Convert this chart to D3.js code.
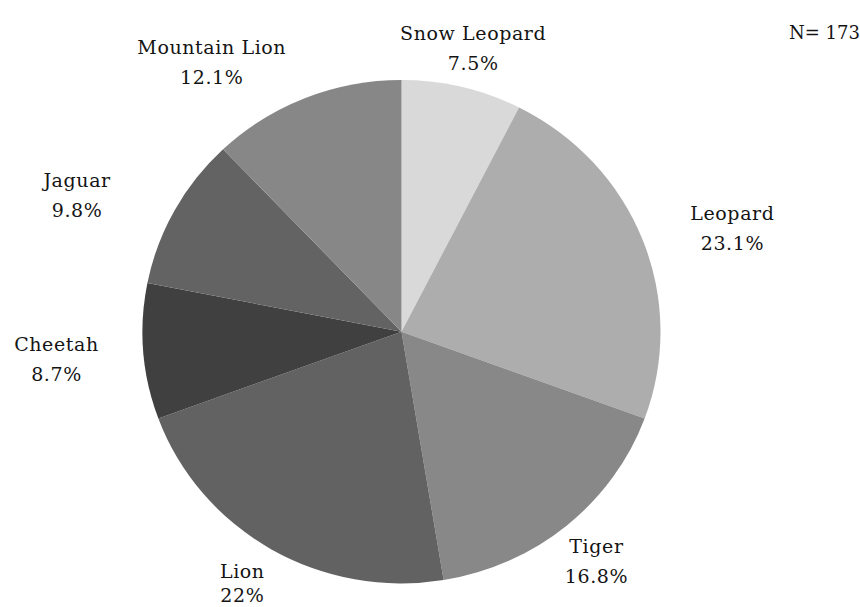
<!DOCTYPE html>
<html>
<head>
<meta charset="utf-8">
<script src="https://cdn.jsdelivr.net/npm/d3@7"></script>
<style>
  html, body { margin: 0; padding: 0; background: #fff; }
  svg { display: block; }
  text { font-family: "DejaVu Serif", "Liberation Serif", serif; fill: #141414; }
</style>
</head>
<body>
<svg id="chart" width="860" height="607"></svg>
<script>
// ---- data ----
const categories = ["Snow Leopard", "Leopard", "Tiger", "Lion", "Cheetah", "Jaguar", "Mountain Lion"];
const values = [7.5, 23.1, 16.8, 22, 8.7, 9.8, 12.1];
const percentLabels = ["7.5%", "23.1%", "16.8%", "22%", "8.7%", "9.8%", "12.1%"];
const sampleSize = 173;

// ---- styling / layout ----
const colors = ["#d9d9d9", "#adadad", "#888888", "#626262", "#404040", "#636363", "#878787"];
const labelNudge = [[-3, 27], [33, 13], [-9, -17], [2, -25], [-26, 2], [-44, 17], [-71, 27]];
const lineGap = [15, 15, 15, 12, 15, 15, 15];

const W = 860, H = 607;
const cx = 401.5, cy = 331.7, rx = 259, ry = 251.7;
const svg = d3.select("#chart");

const data = categories.map((c, i) => ({ name: c, value: values[i], pct: percentLabels[i], i }));
const pie = d3.pie().value(d => d.value).sort(null);
const arcs = pie(data);
const arc = d3.arc().innerRadius(0).outerRadius(rx);

const g = svg.append("g").attr("transform", `translate(${cx},${cy}) scale(1,${ry / rx})`);
g.selectAll("path").data(arcs).join("path")
  .attr("d", arc)
  .attr("fill", (d, i) => colors[i]);

const labelR = 320;
const lg = svg.append("g");
arcs.forEach((d, i) => {
  const a = (d.startAngle + d.endAngle) / 2;
  const x = cx + labelR * Math.sin(a) + labelNudge[i][0];
  const y = cy - labelR * Math.cos(a) + labelNudge[i][1];
  const t = lg.append("text")
    .attr("x", x).attr("y", y)
    .attr("text-anchor", "middle")
    .style("font-size", "19px")
    .style("letter-spacing", "0.6px");
  t.append("tspan").attr("x", x).attr("y", y - lineGap[i]).attr("dominant-baseline", "central").text(d.data.name);
  t.append("tspan").attr("x", x).attr("y", y + lineGap[i]).attr("dominant-baseline", "central").text(d.data.pct);
});

svg.append("text")
  .attr("x", 789).attr("y", 39)
  .style("font-size", "18px")
  .text("N= " + sampleSize);
</script>
</body>
</html>
